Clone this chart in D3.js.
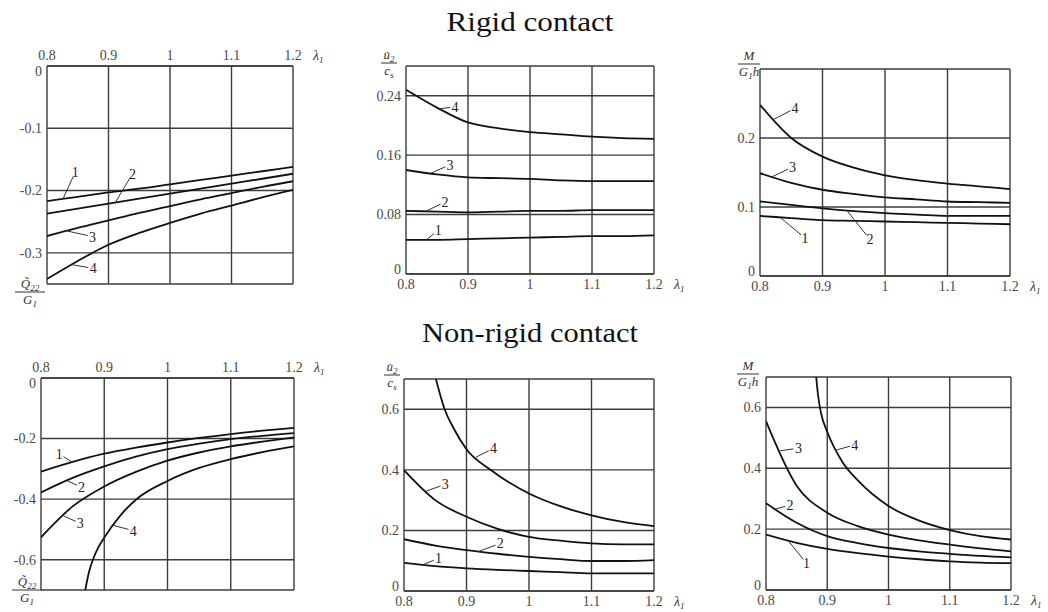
<!DOCTYPE html>
<html>
<head>
<meta charset="utf-8">
<script src="https://cdn.jsdelivr.net/npm/d3@7"></script>
<style>
  body { margin: 0; background: #fff; }
  svg { display: block; }
  .grid { stroke: #3c3c3c; stroke-width: 1.4; fill: none; }
  .curve { stroke: #111; stroke-width: 1.8; fill: none; }
  .leader { stroke: #333; stroke-width: 1; }
</style>
</head>
<body>
<svg id="chart" width="1048" height="612"></svg>
<script>
"use strict";

/**
 * Six small plots: stress, velocity and moment against lambda_1,
 * for rigid contact (top row) and non-rigid contact (bottom row).
 */

const lambda = [0.8, 0.85, 0.9, 0.95, 1.0, 1.05, 1.1, 1.15, 1.2];
const xTicks = [0.8, 0.9, 1, 1.1, 1.2];

// Rigid contact, Q22/G1 (curves 1..4)
const rigidQ = [
  [-0.217, -0.210, -0.203, -0.197, -0.190, -0.183, -0.176, -0.169, -0.162],
  [-0.237, -0.229, -0.221, -0.213, -0.205, -0.197, -0.189, -0.181, -0.173],
  [-0.273, -0.260, -0.248, -0.236, -0.225, -0.214, -0.204, -0.194, -0.185],
  [-0.342, -0.313, -0.287, -0.268, -0.252, -0.237, -0.224, -0.211, -0.199]
];
// Rigid contact, u2/cs
const rigidU = [
  [0.046, 0.046, 0.047, 0.048, 0.049, 0.050, 0.051, 0.051, 0.052],
  [0.085, 0.084, 0.083, 0.084, 0.085, 0.085, 0.086, 0.086, 0.086],
  [0.140, 0.134, 0.130, 0.129, 0.128, 0.126, 0.125, 0.125, 0.125],
  [0.248, 0.224, 0.204, 0.196, 0.191, 0.188, 0.185, 0.183, 0.182]
];
// Rigid contact, M/(G1 h)
const rigidM = [
  [0.087, 0.084, 0.081, 0.080, 0.079, 0.078, 0.077, 0.076, 0.075],
  [0.108, 0.103, 0.098, 0.094, 0.091, 0.089, 0.087, 0.087, 0.087],
  [0.149, 0.135, 0.125, 0.119, 0.114, 0.111, 0.108, 0.107, 0.106],
  [0.248, 0.200, 0.173, 0.157, 0.146, 0.139, 0.134, 0.130, 0.126]
];

// Non-rigid contact, Q22/G1 (curve 4 starts off-chart)
const softQ = [
  [-0.309, -0.277, -0.250, -0.230, -0.213, -0.198, -0.185, -0.174, -0.165],
  [-0.378, -0.330, -0.292, -0.260, -0.235, -0.217, -0.202, -0.191, -0.182],
  [-0.526, -0.424, -0.358, -0.310, -0.273, -0.246, -0.226, -0.210, -0.196]
];
const softQ4Lambda = [0.87, 0.876, 0.882, 0.89, 0.9, 0.925, 0.95, 1.0, 1.05, 1.1, 1.15, 1.2];
const softQ4 = [-0.70, -0.64, -0.60, -0.562, -0.527, -0.455, -0.402, -0.34, -0.297, -0.268, -0.245, -0.226];

// Non-rigid contact, u2/cs
const softU = [
  [0.093, 0.082, 0.075, 0.070, 0.066, 0.062, 0.058, 0.058, 0.058],
  [0.171, 0.150, 0.135, 0.123, 0.113, 0.105, 0.099, 0.099, 0.102],
  [0.399, 0.300, 0.245, 0.205, 0.179, 0.166, 0.157, 0.154, 0.154]
];
const softU4Lambda = [0.851, 0.865, 0.88, 0.9, 0.94, 1.0, 1.05, 1.1, 1.15, 1.2];
const softU4 = [0.70, 0.60, 0.535, 0.468, 0.398, 0.322, 0.28, 0.25, 0.228, 0.214];

// Non-rigid contact, M/(G1 h)
const softM = [
  [0.182, 0.155, 0.135, 0.121, 0.110, 0.101, 0.094, 0.090, 0.088],
  [0.285, 0.221, 0.177, 0.154, 0.138, 0.127, 0.119, 0.112, 0.107],
  [0.555, 0.343, 0.254, 0.210, 0.182, 0.163, 0.149, 0.137, 0.127]
];
const softM4Lambda = [0.882, 0.885, 0.89, 0.9, 0.925, 0.95, 1.0, 1.05, 1.1, 1.15, 1.2];
const softM4 = [0.70, 0.64, 0.58, 0.52, 0.42, 0.36, 0.276, 0.228, 0.197, 0.177, 0.166];

const ticksQRigid = [0, -0.1, -0.2, -0.3];
const ticksURigid = [0, 0.08, 0.16, 0.24];
const ticksMRigid = [0, 0.1, 0.2];
const ticksQSoft = [0, -0.2, -0.4, -0.6];
const ticksSoft = [0, 0.2, 0.4, 0.6];

const asSeries = rows => rows.map(r => ({ xs: lambda, ys: r }));

// Panel layout; labels are [curve number, lambda on curve, text lambda, text value]
const panels = [
  { box: [47, 66, 293, 284], y: [-0.35, 0], ticks: ticksQRigid, xAxis: "top", yLab: "Q", yLabPos: [30, 292],
    series: asSeries(rigidQ),
    labels: [[1, 0.826, 0.846, -0.170], [2, 0.911, 0.939, -0.173], [3, 0.832, 0.874, -0.274], [4, 0.840, 0.875, -0.325]] },
  { box: [406, 66, 654, 274], y: [0, 0.28], ticks: ticksURigid, xAxis: "bottom", yLab: "u", yLabPos: [389, 63],
    series: asSeries(rigidU),
    labels: [[4, 0.854, 0.879, 0.225], [3, 0.839, 0.871, 0.147], [2, 0.832, 0.863, 0.097], [1, 0.833, 0.852, 0.059]] },
  { box: [760, 69, 1010, 276], y: [0, 0.3], ticks: ticksMRigid, xAxis: "bottom", yLab: "M", yLabPos: [749, 64],
    series: asSeries(rigidM),
    labels: [[4, 0.822, 0.856, 0.243], [3, 0.819, 0.852, 0.158], [1, 0.832, 0.872, 0.055], [2, 0.939, 0.976, 0.053]] },
  { box: [41, 378, 294, 590], y: [-0.7, 0], ticks: ticksQSoft, xAxis: "top", yLab: "Q", yLabPos: [27, 590],
    series: asSeries(softQ).concat([{ xs: softQ4Lambda, ys: softQ4 }]),
    labels: [[1, 0.849, 0.829, -0.251], [2, 0.841, 0.864, -0.361], [3, 0.835, 0.862, -0.480], [4, 0.914, 0.946, -0.504]] },
  { box: [404, 379, 654, 591], y: [0, 0.7], ticks: ticksSoft, xAxis: "bottom", yLab: "u", yLabPos: [392, 375],
    series: asSeries(softU).concat([{ xs: softU4Lambda, ys: softU4 }]),
    labels: [[4, 0.915, 0.943, 0.471], [3, 0.835, 0.866, 0.352], [2, 0.919, 0.954, 0.157], [1, 0.830, 0.855, 0.108]] },
  { box: [766, 377, 1011, 590], y: [0, 0.7], ticks: ticksSoft, xAxis: "bottom", yLab: "M", yLabPos: [748, 374],
    series: asSeries(softM).concat([{ xs: softM4Lambda, ys: softM4 }]),
    labels: [[3, 0.823, 0.853, 0.466], [4, 0.915, 0.945, 0.477], [2, 0.815, 0.839, 0.279], [1, 0.836, 0.866, 0.088]] }
];

const titles = [
  { text: "Rigid contact", x: 530, y: 31, len: 167 },
  { text: "Non-rigid contact", x: 530, y: 342, len: 216 }
];

const FONT = "'Liberation Serif', 'Times New Roman', serif";

const svg = d3.select("#chart");

// Small helper so every text gets the serif face inline
function addText(parent, size, fill, italic) {
  return parent.append("text")
    .style("font-family", FONT)
    .style("font-size", size + "px")
    .style("font-style", italic ? "italic" : "normal")
    .attr("fill", fill);
}

titles.forEach(t => {
  addText(svg, 27, "#111", false)
    .attr("x", t.x).attr("y", t.y)
    .attr("text-anchor", "middle")
    .attr("textLength", t.len).attr("lengthAdjust", "spacingAndGlyphs")
    .text(t.text);
});

// Linear interpolation along a read series (used to hook the leaders onto the curve)
function valueAt(s, l) {
  let i = d3.bisectRight(s.xs, l) - 1;
  i = Math.max(0, Math.min(i, s.xs.length - 2));
  const t = (l - s.xs[i]) / (s.xs[i + 1] - s.xs[i]);
  return s.ys[i] + t * (s.ys[i + 1] - s.ys[i]);
}

function sub(text, s) {
  text.append("tspan").style("font-size", "9px").attr("dy", 3).text(s);
}

// Fraction label for the y-axis, e.g. Q22 / G1
function drawFraction(g, kind, cx, lineY) {
  const num = addText(g, 13, "#333", true).attr("text-anchor", "middle")
    .attr("x", cx).attr("y", lineY - 4);
  const den = addText(g, 13, "#333", true).attr("text-anchor", "middle")
    .attr("x", cx).attr("y", lineY + 12);
  let w;
  if (kind === "Q") {
    num.append("tspan").text("Q\u0303");
    sub(num, "22");
    den.append("tspan").text("G");
    sub(den, "1");
    w = 30;
  } else if (kind === "u") {
    num.append("tspan").text("u\u0307");
    sub(num, "2");
    den.append("tspan").text("c");
    sub(den, "s");
    w = 16;
  } else {
    num.text("M");
    den.append("tspan").text("G");
    sub(den, "1");
    den.append("tspan").attr("dy", -3).text("h");
    w = 22;
  }
  g.append("line").attr("class", "leader")
    .attr("x1", cx - w / 2).attr("x2", cx + w / 2)
    .attr("y1", lineY).attr("y2", lineY);
}

panels.forEach(p => {
  const [x0, y0, x1, y1] = p.box;
  const x = d3.scaleLinear().domain([0.8, 1.2]).range([x0, x1]);
  const y = d3.scaleLinear().domain(p.y).range([y1, y0]);
  const g = svg.append("g");

  // grid lines (frame included)
  g.selectAll("line.vgrid").data(xTicks).enter().append("line")
    .attr("class", "grid")
    .attr("x1", d => x(d)).attr("x2", d => x(d))
    .attr("y1", y0).attr("y2", y1);
  const hLines = p.ticks.concat(p.y);
  g.selectAll("line.hgrid").data(hLines).enter().append("line")
    .attr("class", "grid")
    .attr("x1", x0).attr("x2", x1)
    .attr("y1", d => y(d)).attr("y2", d => y(d));

  // x tick labels
  const xBase = p.xAxis === "top" ? y0 - 6 : y1 + 15;
  xTicks.forEach(d => {
    addText(g, 14, "#4a4a4a", false)
      .attr("x", x(d)).attr("y", xBase)
      .attr("text-anchor", "middle")
      .text(d);
  });
  const lam = addText(g, 14, "#333", true)
    .attr("x", x1 + 20).attr("y", xBase);
  lam.append("tspan").text("\u03bb");
  sub(lam, "1");

  // y tick labels (the one at the x-axis end is nudged away from the corner)
  const zeroShift = p.xAxis === "top" ? 5 : -5;
  p.ticks.forEach(d => {
    addText(g, 14, "#4a4a4a", false)
      .attr("x", x0 - 5)
      .attr("y", y(d) + (d === 0 ? zeroShift : 0))
      .attr("dy", "0.35em")
      .attr("text-anchor", "end")
      .text(d);
  });

  drawFraction(g, p.yLab, p.yLabPos[0], p.yLabPos[1]);

  // curves, clipped to the frame
  const clipId = "clip" + x0;
  svg.append("clipPath").attr("id", clipId).append("rect")
    .attr("x", x0).attr("y", y0).attr("width", x1 - x0).attr("height", y1 - y0);
  const line = d3.line()
    .x(d => x(d[0])).y(d => y(d[1]))
    .curve(d3.curveMonotoneX);
  g.selectAll("path.curve").data(p.series).enter().append("path")
    .attr("class", "curve")
    .attr("clip-path", "url(#" + clipId + ")")
    .attr("d", s => line(s.xs.map((l, i) => [l, s.ys[i]])));

  // curve numbers with their leader lines
  p.labels.forEach(([n, at, tl, tv]) => {
    const s = p.series[n - 1];
    const ax = x(at), ay = y(valueAt(s, at));
    const tx = x(tl), ty = y(tv);
    const len = Math.hypot(tx - ax, ty - ay);
    const k = Math.max(0, (len - 5) / len);
    g.append("line").attr("class", "leader")
      .attr("x1", ax).attr("y1", ay)
      .attr("x2", ax + (tx - ax) * k).attr("y2", ay + (ty - ay) * k);
    addText(g, 14, "#222", false)
      .attr("x", tx).attr("y", ty)
      .attr("dy", "0.35em").attr("text-anchor", "middle")
      .text(n);
  });
});
</script>
</body>
</html>
